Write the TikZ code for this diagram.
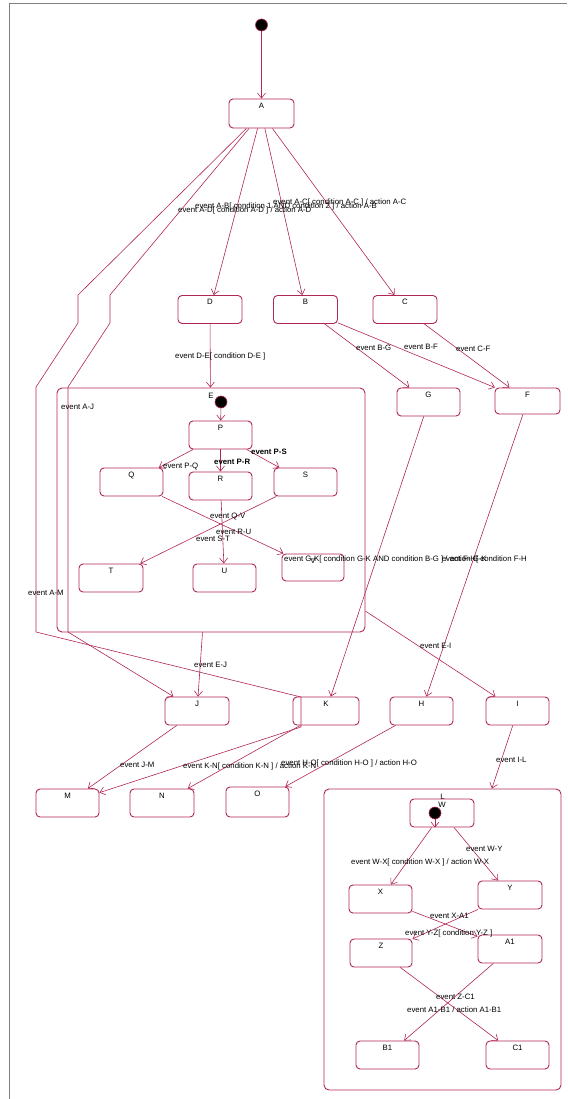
\documentclass[tikz,border=0pt]{standalone}
\usepackage{fontspec}
\setmainfont{Liberation Sans}
\usetikzlibrary{arrows.meta}
\definecolor{uml}{RGB}{176,38,84}
\tikzset{
  st/.style={draw=uml, line width=0.9pt, rounded corners=4pt, minimum width=64pt, minimum height=28pt, inner sep=0pt},
  cst/.style={draw=uml, line width=0.9pt, rounded corners=5pt, inner sep=0pt},
  ini/.style={circle, fill=black, draw=uml, line width=0.6pt, minimum size=12pt, inner sep=0pt},
  tr/.style={draw=uml, line width=0.6pt, -{Straight Barb[length=5pt,width=8pt]}},
  lbl/.style={font=\fontsize{7.8}{8}\selectfont, inner sep=0pt, anchor=west},
  nm/.style={font=\fontsize{7.8}{8}\selectfont, inner sep=0pt, anchor=north, yshift=-4pt}
}
\begin{document}
\begin{tikzpicture}[x=1pt, y=-1pt]
\useasboundingbox (0,0) rectangle (567,1099);
\draw[gray, line width=1pt] (9.5,1099) -- (9.5,4) -- (567,4);

\node[ini] (i0) at (261.5,25) {};
\node[st, minimum width=65pt, minimum height=29pt, label={[nm]north:A}] (A) at (261.5,113.5) {};
\node[st, label={[nm]north:D}] (D) at (210,309.5) {};
\node[st, label={[nm]north:B}] (B) at (305.5,309.5) {};
\node[st, label={[nm]north:C}] (C) at (405,309.5) {};
\node[cst, minimum width=308pt, minimum height=244pt, label={[nm, yshift=-1pt]north:E}] (E) at (211,510) {};
\node[st, minimum width=63pt, label={[nm]north:G}] (G) at (428.5,402) {};
\node[st, minimum width=65pt, minimum height=26pt, label={[nm]north:F}] (F) at (527.5,401) {};
\node[ini] (iE) at (221,402) {};
\node[st, minimum width=63pt, label={[nm]north:P}] (P) at (220.5,435) {};
\node[st, minimum width=63pt, label={[nm]north:Q}] (Q) at (131.5,482) {};
\node[st, minimum width=63pt, label={[nm]north:R}] (R) at (220.5,486) {};
\node[st, minimum width=63pt, label={[nm]north:S}] (S) at (305.5,482) {};
\node[st, label={[nm]north:T}] (T) at (111,578) {};
\node[st, minimum width=63pt, label={[nm]north:U}] (U) at (224.5,578) {};
\node[st, minimum width=62pt, minimum height=27pt, label={[nm]north:V}] (V) at (313,567.5) {};
\node[st, label={[nm]north:J}] (J) at (197,711) {};
\node[st, minimum width=66pt, label={[nm]north:K}] (K) at (326,711) {};
\node[st, minimum width=63pt, label={[nm]north:H}] (H) at (421.5,711) {};
\node[st, minimum width=63pt, label={[nm]north:I}] (I) at (517.5,711) {};
\node[st, minimum width=63pt, label={[nm]north:M}] (M) at (67.5,803) {};
\node[st, label={[nm]north:N}] (N) at (162,803) {};
\node[st, minimum width=63pt, minimum height=30pt, label={[nm]north:O}] (O) at (257.5,802) {};
\node[cst, minimum width=237pt, minimum height=301pt, label={[nm, yshift=-1pt]north:L}] (L) at (442.5,939.5) {};
\node[st, label={[nm, yshift=1pt]north:W}] (W) at (442,813) {};
\node[ini] (iL) at (435,813) {};
\node[st, minimum width=63pt, label={[nm]north:X}] (X) at (380.5,899) {};
\node[st, label={[nm]north:Y}] (Y) at (510,895) {};
\node[st, minimum width=62pt, label={[nm]north:Z}] (Z) at (381,953) {};
\node[st, label={[nm]north:A1}] (A1) at (510,949) {};
\node[st, minimum width=63pt, label={[nm]north:B1}] (B1) at (387.5,1055) {};
\node[st, minimum width=63pt, label={[nm]north:C1}] (C1) at (517.5,1055) {};

\draw[tr] (i0) -- (A);
\draw[tr] (A) -- (D);
\draw[tr] (A) -- (B);
\draw[tr] (A) -- (C);
\draw[tr] (A) -- (78,295) -- (78,323) -- (36,387) -- (36,632) -- (301,697) -- (301,727) -- (M);
\draw[tr] (A) -- (110,295) -- (110,323) -- (68,387) -- (68,632) -- (J);
\draw[tr] (D) -- (E);
\draw[tr] (B) -- (G);
\draw[tr] (B) -- (F);
\draw[tr] (C) -- (F);
\draw[tr] (iE) -- (P);
\draw[tr] (P) -- (Q);
\draw[tr] (P) -- (R);
\draw[tr] (P) -- (S);
\draw[tr] (Q) -- (V);
\draw[tr] (R) -- (U);
\draw[tr] (S) -- (T);
\draw[tr] (E) -- (J);
\draw[tr] (E) -- (I);
\draw[tr] (G) -- (K);
\draw[tr] (F) -- (H);
\draw[tr] (J) -- (M);
\draw[tr] (K) -- (N);
\draw[tr] (H) -- (O);
\draw[tr] (I) -- (L);
\draw[tr] (iL) -- (iL |- W.south);
\draw[tr] (W) -- (X);
\draw[tr] (W) -- (Y);
\draw[tr] (X) -- (A1);
\draw[tr] (Y) -- (Z);
\draw[tr] (Z) -- (C1);
\draw[tr] (A1) -- (B1);

\node[lbl] (lAC) at (273,202) {event A-C[ condition A-C ] / action A-C};
\node[lbl] (lAB) at (195,206) {event A-B[ condition 1 AND condition 2 ] / action A-B};
\node[lbl] (lAD) at (178,210) {event A-D[ condition A-D ] / action A-D};
\node[lbl] (lDE) at (175,356) {event D-E[ condition D-E ]};
\node[lbl] (lBG) at (356,348) {event B-G};
\node[lbl] (lBF) at (404,347) {event B-F};
\node[lbl] (lCF) at (456,349) {event C-F};
\node[lbl] (lAJ) at (61,407) {event A-J};
\node[lbl] (lAM) at (28,593) {event A-M};
\node[lbl, font=\fontsize{7.8}{8}\selectfont\bfseries] (lPS) at (251,452) {event P-S};
\node[lbl, font=\fontsize{7.8}{8}\selectfont\bfseries] (lPR) at (214,462) {event P-R};
\node[lbl] (lPQ) at (163,467) {event P-Q};
\node[lbl] (lQV) at (210,517) {event Q-V};
\node[lbl] (lRU) at (216,532) {event R-U};
\node[lbl] (lST) at (196,539) {event S-T};
\node[lbl] (lGK) at (284,559) {event G-K[ condition G-K AND condition B-G ] / action G-K};
\node[lbl, anchor=east] (lFH) at (527,559) {event F-H[ condition F-H};
\node[lbl] (lEI) at (420,646) {event E-I};
\node[lbl] (lEJ) at (194,665) {event E-J};
\node[lbl] (lIL) at (496,760) {event I-L};
\node[lbl] (lHO) at (281,763) {event H-O[ condition H-O ] / action H-O};
\node[lbl] (lJM) at (120,765) {event J-M};
\node[lbl] (lKN) at (183,766) {event K-N[ condition K-N ] / action K-N};
\node[lbl] (lWY) at (466,849) {event W-Y};
\node[lbl] (lWX) at (351,862) {event W-X[ condition W-X ] / action W-X};
\node[lbl] (lXA) at (430,916) {event X-A1};
\node[lbl] (lYZ) at (405,933) {event Y-Z[ condition Y-Z ]};
\node[lbl] (lZC) at (436,997) {event Z-C1};
\node[lbl] (lAB1) at (407,1010) {event A1-B1 / action A1-B1};
\end{tikzpicture}
\end{document}
